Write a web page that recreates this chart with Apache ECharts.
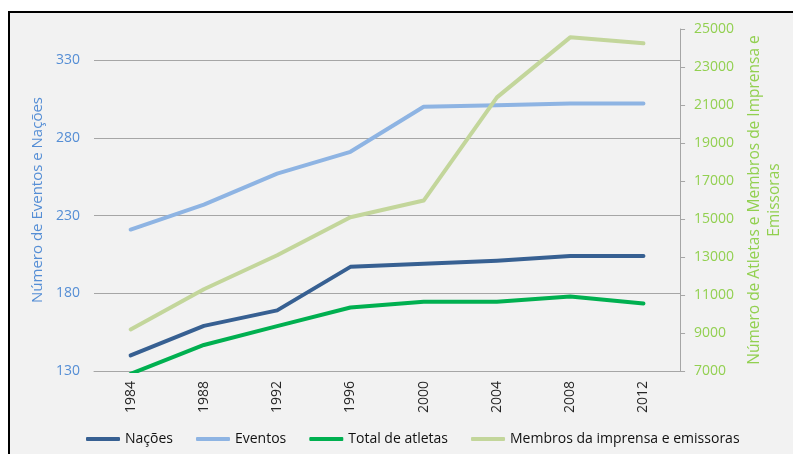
<!DOCTYPE html>
<html>
<head>
<meta charset="utf-8">
<script src="https://cdn.jsdelivr.net/npm/echarts@6/dist/echarts.min.js"></script>
<style>
html,body{margin:0;padding:0;background:#fff;}
#c{width:793px;height:454px;}
</style>
</head>
<body>
<div id="c"></div>
<script>
const categories = ['1984','1988','1992','1996','2000','2004','2008','2012'];
const nacoes = [140, 159, 169, 197, 199, 201, 204, 204];
const eventos = [221, 237, 257, 271, 300, 301, 302, 302];
const atletas = [6850, 8370, 9360, 10340, 10650, 10640, 10920, 10550];
const imprensa = [9190, 11300, 13090, 15090, 15970, 21400, 24560, 24250];
const leftTicks = {min: 130, max: 350, interval: 50};
const rightTicks = {min: 7000, max: 25000, interval: 2000};

const FONT = 'Open Sans';
const chart = echarts.init(document.getElementById('c'), null, {renderer: 'canvas'});
function line(name, data, color, yIndex) {
  return {
    name, type: 'line', data, yAxisIndex: yIndex,
    symbol: 'none', showSymbol: false,
    lineStyle: {width: 4, color, cap: 'round', join: 'round'},
    itemStyle: {color},
    emphasis: {disabled: true}
  };
}
chart.setOption({
  backgroundColor: '#ffffff',
  animation: false,
  textStyle: {fontFamily: FONT},
  graphic: [{
    type: 'rect', z: -100, silent: true,
    shape: {x: 9, y: 12, width: 800, height: 460},
    style: {fill: '#F2F2F2', stroke: '#000000', lineWidth: 2}
  }],
  grid: {left: 94, right: 110, top: 29, bottom: 83},
  legend: {
    left: 81, top: 427,
    itemWidth: 34, itemHeight: 4, itemGap: 23,
    icon: 'roundRect',
    textStyle: {fontFamily: FONT, fontSize: 14, color: '#111111'},
    data: ['Nações', 'Eventos', 'Total de atletas', 'Membros da imprensa e emissoras']
  },
  xAxis: {
    type: 'category', data: categories, boundaryGap: true,
    axisLine: {lineStyle: {color: '#A6A6A6', width: 1}},
    axisTick: {show: false},
    axisLabel: {rotate: 90, margin: 10, fontFamily: FONT, fontSize: 14, color: '#262626'}
  },
  yAxis: [{
    type: 'value', position: 'left',
    min: leftTicks.min, max: leftTicks.max, interval: leftTicks.interval,
    name: 'Número de Eventos e Nações', nameLocation: 'middle', nameGap: 46, nameRotate: 90,
    nameTextStyle: {fontFamily: FONT, fontSize: 15, color: '#558ED5'},
    axisLine: {show: false}, axisTick: {show: false},
    axisLabel: {showMaxLabel: false, margin: 14, fontFamily: FONT, fontSize: 14, color: '#558ED5'},
    splitLine: {show: true, showMaxLine: false, lineStyle: {color: '#A6A6A6', width: 1}}
  }, {
    type: 'value', position: 'right',
    min: rightTicks.min, max: rightTicks.max, interval: rightTicks.interval,
    name: 'Número de Atletas e Membros de Imprensa e\nEmissoras', nameLocation: 'middle', nameGap: 64, nameRotate: 90,
    nameTextStyle: {fontFamily: FONT, fontSize: 15.5, color: '#92D050', lineHeight: 20, align: 'center'},
    axisLine: {show: true, lineStyle: {color: '#A6A6A6', width: 1}},
    axisTick: {show: true, length: 5, inside: false, lineStyle: {color: '#A6A6A6'}},
    axisLabel: {margin: 14, fontFamily: FONT, fontSize: 14, color: '#92D050', formatter: v => String(v)},
    splitLine: {show: false}
  }],
  series: [
    line('Nações', nacoes, '#376092', 0),
    line('Eventos', eventos, '#8EB4E3', 0),
    line('Total de atletas', atletas, '#00B050', 1),
    line('Membros da imprensa e emissoras', imprensa, '#C3D69B', 1)
  ]
});
</script>
</body>
</html>
